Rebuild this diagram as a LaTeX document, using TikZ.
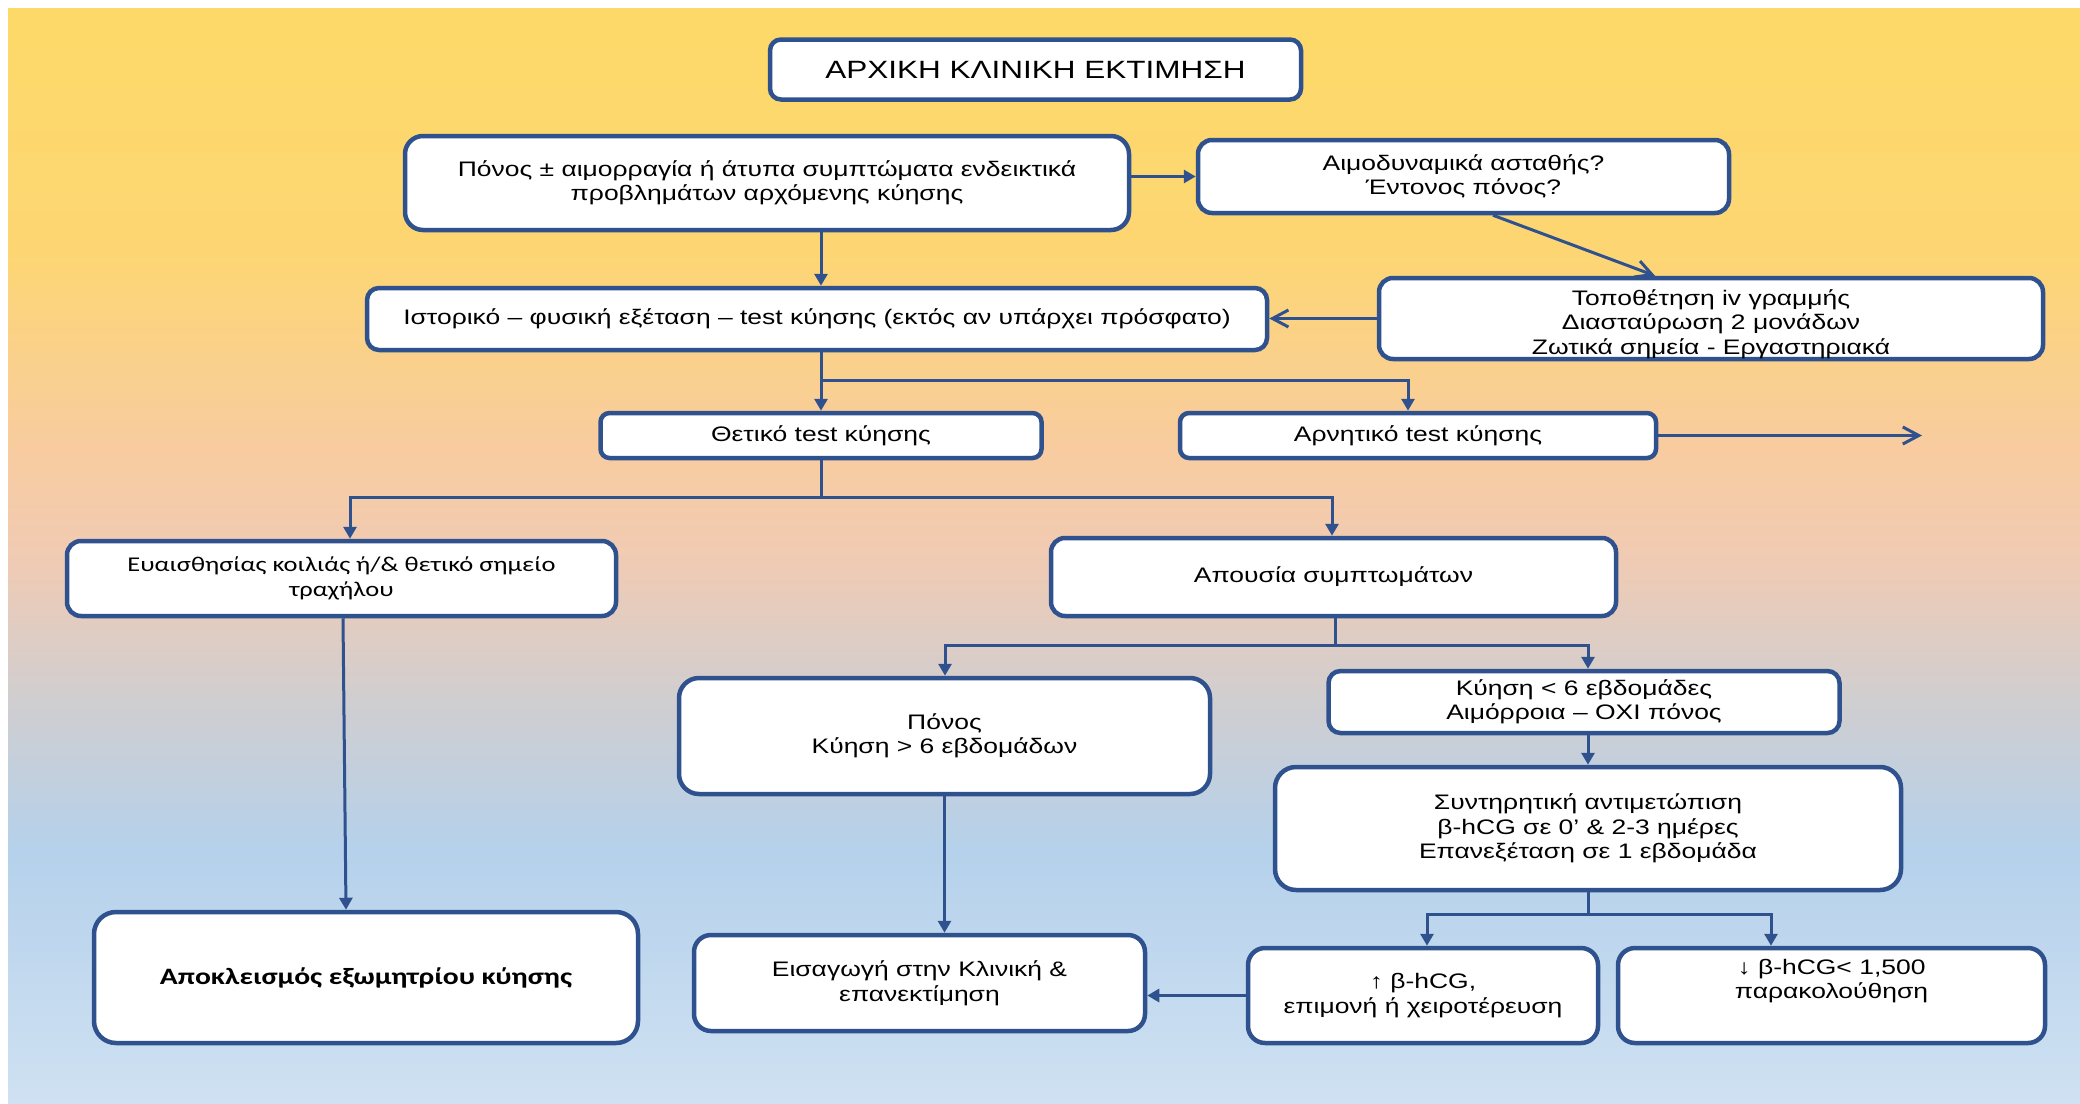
\documentclass[tikz,border=0pt]{standalone}
\usepackage{fontspec}
\setmainfont{Liberation Sans}[FakeStretch=1.26]
\newfontfamily\calibri{Carlito}[FakeStretch=1.26]
\usetikzlibrary{arrows.meta}

% palette
\definecolor{edge}{RGB}{47,82,143}
\definecolor{bgA}{RGB}{207,225,242}
\definecolor{bgB}{RGB}{181,209,235}
\definecolor{bgC}{RGB}{208,206,208}
\definecolor{bgD}{RGB}{240,203,180}
\definecolor{bgE}{RGB}{248,204,160}
\definecolor{bgF}{RGB}{253,214,115}
\definecolor{bgG}{RGB}{253,217,104}

% background: yellow at the top, peach in the middle, light blue at the bottom
\pgfdeclareverticalshading{bgshade}{100bp}{%
  color(0bp)=(bgA); color(25bp)=(bgA); color(36.6bp)=(bgB); color(43.4bp)=(bgC);
  color(49.8bp)=(bgD); color(54.8bp)=(bgE); color(63.9bp)=(bgF);
  color(75bp)=(bgG); color(100bp)=(bgG)}

\tikzset{
  txt/.style={align=center, inner sep=0pt, font=\fontsize{21}{24.5}\selectfont},
  box/.style={txt, draw=edge, line width=4.5pt, fill=white, rounded corners=14pt},
  conn/.style={draw=edge, line width=3pt},
  tri/.style={conn, -{Triangle[length=12pt,width=13pt]}},
  barb/.style={conn, -{Straight Barb[length=16pt,width=17pt]}},
}

\begin{document}
\begin{tikzpicture}[x=1pt,y=-1pt]
\useasboundingbox (0,0) rectangle (2080,1103);
\shade[shading=bgshade] (8,8) rectangle (2080,1103);

% boxes
\node[box, minimum width=531pt, minimum height=60pt, rounded corners=11pt,
  font=\fontsize{25}{29}\selectfont] (title) at (1035.5,69.5) {ΑΡΧΙΚΗ ΚΛΙΝΙΚΗ ΕΚΤΙΜΗΣΗ};
\node[box, minimum width=724pt, minimum height=94pt, rounded corners=18pt] (A) at (767,183)
  {Πόνος ± αιμορραγία ή άτυπα συμπτώματα ενδεικτικά\\προβλημάτων αρχόμενης κύησης};
\node[box, minimum width=531pt, minimum height=73pt] (B) at (1463.5,176.5)
  {Αιμοδυναμικά ασταθής?\\Έντονος πόνος?};
\node[box, minimum width=664pt, minimum height=81pt] (C) at (1711,318.5) {};
\node[txt] (Ctext) at (1711,324)
  {Τοποθέτηση iv γραμμής\\Διασταύρωση 2 μονάδων\\Ζωτικά σημεία - Εργαστηριακά};
\node[box, minimum width=900pt, minimum height=62pt, rounded corners=12pt] (D) at (817,319)
  {Ιστορικό – φυσική εξέταση – test κύησης (εκτός αν υπάρχει πρόσφατο)};
\node[box, minimum width=441pt, minimum height=45pt, rounded corners=9pt] (E) at (821,435.5)
  {Θετικό test κύησης};
\node[box, minimum width=476pt, minimum height=45pt, rounded corners=9pt] (F) at (1418,435.5)
  {Αρνητικό test κύησης};
\node[box, minimum width=549pt, minimum height=75pt,
  font=\calibri\fontsize{21}{24.5}\selectfont] (G) at (341.5,578.5)
  {Ευαισθησίας κοιλιάς ή/\& θετικό σημείο\\τραχήλου};
\node[box, minimum width=565pt, minimum height=78pt] (H) at (1333.5,577)
  {Απουσία συμπτωμάτων};
\node[box, minimum width=531pt, minimum height=116pt, rounded corners=20pt] (I) at (944.5,736)
  {Πόνος\\Κύηση > 6 εβδομάδων};
\node[box, minimum width=511pt, minimum height=62pt, rounded corners=12pt] (J) at (1584,702)
  {Κύηση < 6 εβδομάδες\\Αιμόρροια – ΟΧΙ πόνος};
\node[box, minimum width=626pt, minimum height=123pt, rounded corners=21pt] (K) at (1588,828.5)
  {Συντηρητική αντιμετώπιση\\β-hCG σε 0’ \& 2-3 ημέρες\\Επανεξέταση σε 1 εβδομάδα};
\node[box, minimum width=544pt, minimum height=131pt, rounded corners=22pt,
  font=\calibri\bfseries\fontsize{23.5}{28}\selectfont] (L) at (366,977.5)
  {Αποκλεισμός εξωμητρίου κύησης};
\node[box, minimum width=451pt, minimum height=96pt, rounded corners=17pt] (M) at (919.5,983)
  {Εισαγωγή στην Κλινική \&\\επανεκτίμηση};
\node[box, minimum width=350pt, minimum height=95pt, rounded corners=17pt] (N) at (1423,995.5)
  {↑ β-hCG,\\επιμονή ή χειροτέρευση};
\node[box, minimum width=427pt, minimum height=95pt, rounded corners=17pt] (O) at (1831.5,995.5) {};
\node[txt] (Otext) at (1831.5,981)
  {↓ β-hCG< 1,500\\παρακολούθηση};

% bend points of the connectors
\coordinate (bcA) at (1493,0);
\coordinate (bcB) at (1655,0);
\coordinate (dF) at (1408,380);
\coordinate (fend) at (1922,435.5);
\coordinate (eG) at (350,497);
\coordinate (eH) at (1332,497);
\coordinate (gA) at (343,0);
\coordinate (gB) at (346,0);
\coordinate (hI) at (945,645);
\coordinate (hJ) at (1588,645);
\coordinate (kN) at (1427,914);
\coordinate (kO) at (1771,914);

% connectors
\draw[tri] (A.east |- B.west) -- (B.west);
\draw[tri] (A.south -| E.north) -- (D.north -| E.north);
\draw[tri] (D.south -| E.north) -- (E.north);
\draw[tri] (E.north |- dF) -- (dF) -- (dF |- F.north);
\draw[barb] (B.south -| bcA) -- (C.north -| bcB);
\draw[barb] (C.west) -- (C.west -| D.east);
\draw[barb] (F.east) -- (fend);
\draw[conn] (E.south) -- (E.south |- eG);
\draw[tri] (E.south |- eG) -- (eG) -- (eG |- G.north);
\draw[tri] (E.south |- eH) -- (eH) -- (eH |- H.north);
\draw[tri] (G.south -| gA) -- (L.north -| gB);
\draw[conn] (H.south -| hJ) ++(-253,0) coordinate (hS) -- (hS |- hI);
\draw[tri] (hS |- hI) -- (hI) -- (hI |- I.north);
\draw[tri] (hS |- hJ) -- (hJ) -- (hJ |- J.north);
\draw[tri] (J.south -| K.north) -- (K.north);
\draw[tri] (I.south) -- (I.south |- M.north);
\draw[conn] (K.south) -- (K.south |- kN);
\draw[tri] (K.south |- kN) -- (kN) -- (kN |- N.north);
\draw[tri] (K.south |- kO) -- (kO) -- (kO |- O.north);
\draw[tri] (N.west) -- (N.west -| M.east);
\end{tikzpicture}
\end{document}
